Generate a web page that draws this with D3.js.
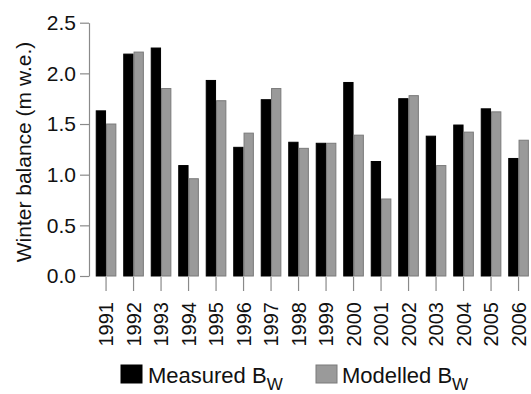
<!DOCTYPE html>
<html>
<head>
<meta charset="utf-8">
<script src="https://cdn.jsdelivr.net/npm/d3@7"></script>
<style>
  html, body { margin: 0; padding: 0; background: #fff; }
  svg { display: block; }
  text { font-family: "Liberation Sans", Arial, sans-serif; fill: #111; }
</style>
</head>
<body>
<script>
// Winter balance per hydrological year, measured vs modelled (m w.e.)
const years = ["1991","1992","1993","1994","1995","1996","1997","1998",
               "1999","2000","2001","2002","2003","2004","2005","2006"];
const measured = [1.63, 2.19, 2.25, 1.09, 1.93, 1.27, 1.74, 1.32,
                  1.31, 1.91, 1.13, 1.75, 1.38, 1.49, 1.65, 1.16];
const modelled = [1.50, 2.21, 1.85, 0.96, 1.73, 1.41, 1.85, 1.26,
                  1.31, 1.39, 0.76, 1.78, 1.09, 1.42, 1.62, 1.34];
const yTicks = [0, 0.5, 1.0, 1.5, 2.0, 2.5];
const seriesNames = ["Measured", "Modelled"];
const seriesColors = { Measured: "#000000", Modelled: "#9a9a9a" };
const seriesStroke = { Measured: "#000000", Modelled: "#7a7a7a" };

const W = 531, H = 394;
const svg = d3.select("body").append("svg").attr("width", W).attr("height", H);

const y = d3.scaleLinear().domain([0, 2.5]).range([276, 22.7]);
const x = d3.scaleBand().domain(years).range([92.3, 532.3])
  .paddingInner(0.25).paddingOuter(0.125);
const xs = d3.scaleBand().domain(seriesNames).range([0, x.bandwidth()]).padding(0);

const rows = years.map((yr, i) => ({ year: yr, Measured: measured[i], Modelled: modelled[i] }));

// Bars
const groups = svg.append("g").selectAll("g").data(rows).join("g")
  .attr("transform", d => `translate(${x(d.year)},0)`);
groups.selectAll("rect")
  .data(d => seriesNames.map(k => ({ key: k, value: d[k] })))
  .join("rect")
  .attr("x", d => xs(d.key) + 0.5)
  .attr("y", d => y(d.value))
  .attr("width", xs.bandwidth() - 1)
  .attr("height", d => y(0) - y(d.value))
  .attr("fill", d => seriesColors[d.key])
  .attr("stroke", d => seriesStroke[d.key])
  .attr("stroke-width", 1);

// Y axis
const yAxis = svg.append("g").attr("transform", "translate(89,0)")
  .call(d3.axisLeft(y).tickValues(yTicks).tickFormat(d3.format(".1f"))
    .tickSize(9).tickSizeOuter(0).tickPadding(4));
yAxis.select(".domain").attr("stroke", "#8a8a8a").attr("stroke-width", 1.2);
yAxis.selectAll(".tick line").attr("stroke", "#8a8a8a").attr("stroke-width", 1.2);
yAxis.selectAll(".tick text").attr("font-size", 21).style("font-family", "Liberation Sans, Arial, sans-serif").attr("fill", "#111");

// X axis (ticks only, rotated year labels)
const xAxis = svg.append("g").attr("transform", "translate(0,277)")
  .call(d3.axisBottom(x).tickSize(14).tickSizeOuter(0));
xAxis.select(".domain").remove();
xAxis.selectAll(".tick line").attr("stroke", "#8a8a8a").attr("stroke-width", 1.2);
xAxis.selectAll(".tick text")
  .attr("font-size", 20).style("font-family", "Liberation Sans, Arial, sans-serif").attr("fill", "#111")
  .attr("transform", "rotate(-90)")
  .attr("x", -25).attr("y", 0).attr("dy", "0.35em")
  .attr("text-anchor", "end");

// Y axis title
svg.append("text")
  .attr("transform", "translate(31,152) rotate(-90)")
  .attr("text-anchor", "middle")
  .attr("font-size", 21)
  .text("Winter balance (m w.e.)");

// Legend
const legendItems = [
  { key: "Measured", box: 121, text: 148 },
  { key: "Modelled", box: 316, text: 342 }
];
const lg = svg.append("g");
legendItems.forEach(item => {
  lg.append("rect")
    .attr("x", item.box).attr("y", 365).attr("width", 21).attr("height", 18)
    .attr("fill", seriesColors[item.key]).attr("stroke", seriesStroke[item.key]);
  const t = lg.append("text").attr("x", item.text).attr("y", 383).attr("font-size", 22);
  t.append("tspan").text(item.key + " B");
  t.append("tspan").attr("dy", 7).attr("font-size", 17).text("W");
});
</script>
</body>
</html>
